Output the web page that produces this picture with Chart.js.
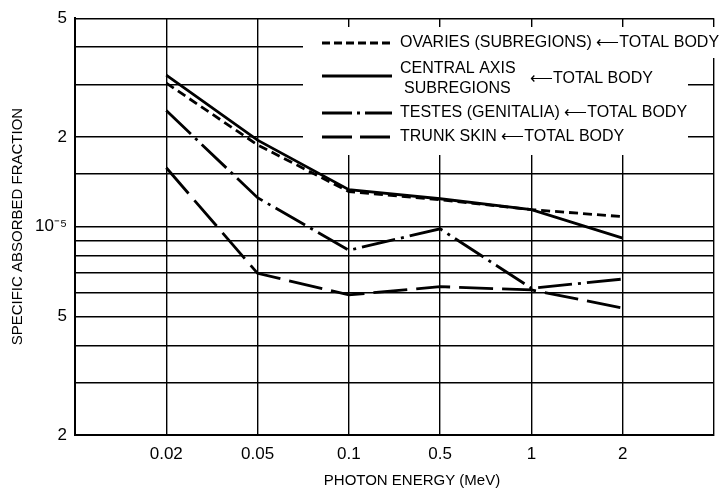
<!DOCTYPE html>
<html>
<head>
<meta charset="utf-8">
<script src="https://cdn.jsdelivr.net/npm/chart.js@4"></script>
<style>
  html, body { margin: 0; padding: 0; background: #fff; }
</style>
</head>
<body>
<canvas id="chart" width="723" height="491"></canvas>
<script>
// photon energies (MeV) along the x axis
const energies = ['0.02', '0.05', '0.1', '0.5', '1', '2'];

// specific absorbed fraction
const ovaries     = [3.03e-5, 1.88e-5, 1.31e-5, 1.23e-5, 1.14e-5, 1.08e-5];
const centralAxis = [3.22e-5, 1.95e-5, 1.33e-5, 1.24e-5, 1.14e-5, 9.15e-6];
const testes      = [2.45e-5, 1.25e-5, 8.33e-6, 9.83e-6, 6.21e-6, 6.67e-6];
const trunkSkin   = [1.575e-5, 6.97e-6, 5.90e-6, 6.29e-6, 6.13e-6, 5.33e-6];

// labelled y ticks
const yTickValues = [2e-6, 5e-6, 1e-5, 2e-5, 5e-5];
const yTickText   = ['2', '5', '10\u207B\u2075', '2', '5'];

const FONT = '"Liberation Sans", Arial, sans-serif';
const ARROW = '\u27F5';
Chart.defaults.font.family = FONT;
Chart.defaults.color = '#000';

const toPoints = arr => arr.map((v, i) => ({ x: i, y: v }));

const series = (label, data, dash) => ({
  label,
  data: toPoints(data),
  borderColor: '#000',
  borderWidth: 2.8,
  borderDash: dash,
  pointRadius: 0,
  tension: 0,
  fill: false
});

// white box behind the legend, then the hand-drawn legend and x title
const legendBox = {
  id: 'legendBox',
  beforeDatasetsDraw(chart) {
    const ctx = chart.ctx;
    ctx.save();
    ctx.fillStyle = '#fff';
    ctx.fillRect(303, 27, 385, 128);
    ctx.fillRect(688, 27, 29, 31);
    ctx.restore();
  },
  afterDatasetsDraw(chart) {
    const ctx = chart.ctx;
    const sample = (y, dash) => {
      ctx.beginPath();
      ctx.setLineDash(dash);
      ctx.moveTo(322, y);
      ctx.lineTo(392, y);
      ctx.stroke();
    };
    ctx.save();
    ctx.strokeStyle = '#000';
    ctx.lineWidth = 2.8;
    ctx.fillStyle = '#000';
    ctx.font = '16px ' + FONT;
    ctx.textBaseline = 'middle';

    sample(43, [8, 4]);
    ctx.fillText('OVARIES (SUBREGIONS) ' + ARROW + 'TOTAL BODY', 400, 43);

    sample(76, []);
    ctx.fillText('CENTRAL AXIS', 400, 69);
    ctx.fillText('SUBREGIONS', 404, 89);
    ctx.fillText(ARROW + 'TOTAL BODY', 530, 79);

    sample(113, [30, 5, 3, 5]);
    ctx.fillText('TESTES (GENITALIA) ' + ARROW + 'TOTAL BODY', 400, 113);

    sample(137, [30, 8]);
    ctx.fillText('TRUNK SKIN ' + ARROW + 'TOTAL BODY', 400, 137);

    // x axis title sits a little right of centre in the original
    ctx.font = '15px ' + FONT;
    ctx.textAlign = 'center';
    ctx.fillText('PHOTON ENERGY (MeV)', 412, 481);
    ctx.restore();
  }
};

new Chart(document.getElementById('chart'), {
  type: 'line',
  data: {
    datasets: [
      series('OVARIES (SUBREGIONS) \u2190 TOTAL BODY', ovaries, [9, 5]),
      series('CENTRAL AXIS SUBREGIONS \u2190 TOTAL BODY', centralAxis, []),
      series('TESTES (GENITALIA) \u2190 TOTAL BODY', testes, [34, 6, 3, 6]),
      series('TRUNK SKIN \u2190 TOTAL BODY', trunkSkin, [34, 9])
    ]
  },
  options: {
    responsive: false,
    animation: false,
    devicePixelRatio: 1,
    layout: { padding: { top: 14, right: 4, left: 0, bottom: 0 } },
    plugins: {
      legend: { display: false },
      tooltip: { enabled: false }
    },
    scales: {
      x: {
        type: 'linear',
        min: -1,
        max: 6,
        afterFit: s => { s.height = 56; },
        grid: { color: '#000', lineWidth: 1.4, drawTicks: false },
        border: { color: '#000', width: 2 },
        ticks: {
          stepSize: 1,
          autoSkip: false,
          maxRotation: 0,
          padding: 9,
          font: { size: 17 },
          callback: v => energies[v] ?? ''
        },
        title: { display: false }
      },
      y: {
        type: 'logarithmic',
        min: 2e-6,
        max: 5e-5,
        afterFit: s => { s.width = 75; },
        grid: { color: '#000', lineWidth: 1.4, drawTicks: false },
        border: { color: '#000', width: 2 },
        ticks: {
          autoSkip: false,
          padding: 8,
          font: { size: 17 },
          callback: v => {
            const i = yTickValues.findIndex(t => Math.abs(t - v) / t < 1e-6);
            return i >= 0 ? yTickText[i] : '';
          }
        },
        title: {
          display: true,
          text: 'SPECIFIC ABSORBED FRACTION',
          font: { size: 15 },
          padding: { top: 9 }
        }
      }
    }
  },
  plugins: [legendBox]
});
</script>
</body>
</html>
